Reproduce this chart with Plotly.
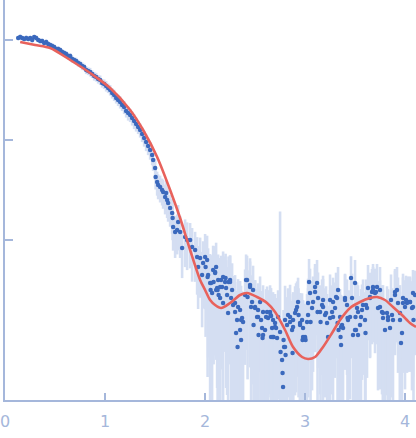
import plotly.graph_objects as go

# Scattering vector q (x) and log10 intensity of the experimental points
q = [
    0.13, 0.15, 0.17, 0.19, 0.21, 0.23, 0.25, 0.27, 0.29, 0.31,
    0.33, 0.35, 0.37, 0.39, 0.41, 0.43, 0.45, 0.47, 0.49, 0.51,
    0.53, 0.55, 0.57, 0.59, 0.61, 0.63, 0.65, 0.67, 0.69, 0.71,
    0.73, 0.75, 0.77, 0.79, 0.81, 0.83, 0.85, 0.87, 0.89, 0.91,
    0.93, 0.95, 0.97, 0.99, 1.01, 1.03, 1.05, 1.07, 1.09, 1.11,
    1.13, 1.15, 1.17, 1.19, 1.21, 1.23, 1.25, 1.27, 1.29, 1.31,
    1.33, 1.35, 1.37, 1.39, 1.41, 1.43, 1.45, 1.47, 1.48, 1.50,
    1.505, 1.52, 1.53, 1.55, 1.57, 1.58, 1.60, 1.61, 1.62, 1.63,
    1.65, 1.67, 1.675, 1.68, 1.70, 1.72, 1.73, 1.75, 1.77, 1.80,
    1.82, 1.85, 1.87, 1.90, 1.92, 1.93, 1.95, 1.97, 1.98, 2.00,
    2.005, 2.02, 2.025, 2.03, 2.05, 2.055, 2.07, 2.08, 2.085, 2.10,
    2.11, 2.12, 2.125, 2.13, 2.135, 2.15, 2.16, 2.17, 2.18, 2.20,
    2.205, 2.22, 2.23, 2.235, 2.25, 2.27, 2.28, 2.30, 2.31, 2.32,
    2.325, 2.33, 2.35, 2.36, 2.37, 2.38, 2.40, 2.42, 2.425, 2.45,
    2.47, 2.48, 2.485, 2.50, 2.52, 2.53, 2.535, 2.55, 2.57, 2.575,
    2.58, 2.60, 2.62, 2.63, 2.65, 2.655, 2.66, 2.67, 2.675, 2.68,
    2.685, 2.70, 2.72, 2.73, 2.75, 2.755, 2.77, 2.775, 2.78, 2.785,
    2.79, 2.80, 2.805, 2.82, 2.83, 2.85, 2.87, 2.875, 2.88, 2.90,
    2.92, 2.93, 2.935, 2.95, 2.97, 2.975, 2.98, 3.00, 3.005, 3.02,
    3.03, 3.04, 3.05, 3.055, 3.07, 3.08, 3.10, 3.12, 3.125, 3.15,
    3.155, 3.17, 3.18, 3.20, 3.22, 3.23, 3.25, 3.27, 3.28, 3.30,
    3.32, 3.325, 3.33, 3.335, 3.35, 3.355, 3.36, 3.37, 3.38, 3.40,
    3.42, 3.425, 3.45, 3.46, 3.47, 3.48, 3.50, 3.505, 3.51, 3.52,
    3.53, 3.55, 3.57, 3.58, 3.60, 3.605, 3.62, 3.63, 3.65, 3.67,
    3.68, 3.70, 3.72, 3.73, 3.75, 3.77, 3.78, 3.80, 3.82, 3.83,
    3.85, 3.87, 3.88, 3.90, 3.92, 3.93, 3.95, 3.96, 3.97, 3.98,
    4.00, 4.02, 4.03, 4.05, 4.07, 4.08, 4.085, 4.10,
    # further points read in the high-q region
    2.10, 2.06, 2.11, 2.15, 2.18, 2.21, 2.25, 2.26, 2.30, 2.35,
    2.36, 2.41, 2.45, 2.46, 2.50, 2.53, 2.56, 2.58, 2.61, 2.66,
    2.70, 2.71, 2.80, 2.85, 2.88, 2.91, 2.95, 2.98, 3.00, 3.03,
    3.10, 3.13, 3.18, 3.21, 3.25, 3.28, 3.31, 3.36, 3.40, 3.43,
    3.50, 3.53, 3.56, 3.61, 3.65, 3.68, 3.71, 3.75, 3.78, 3.83,
    3.86, 3.90, 3.95, 3.98, 4.01, 4.05, 4.08,
]

log_intensity = [
    0.02, 0.03, 0.02, 0.01, 0.02, 0.01, 0.02, 0.00, 0.03, 0.02,
    0.00, -0.01, -0.01, -0.03, -0.02, -0.04, -0.05, -0.06, -0.07, -0.09,
    -0.09, -0.10, -0.12, -0.13, -0.14, -0.16, -0.16, -0.19, -0.20, -0.21,
    -0.23, -0.24, -0.26, -0.27, -0.30, -0.31, -0.32, -0.34, -0.36, -0.37,
    -0.39, -0.40, -0.43, -0.44, -0.46, -0.48, -0.50, -0.53, -0.55, -0.58,
    -0.60, -0.62, -0.65, -0.67, -0.71, -0.73, -0.75, -0.78, -0.81, -0.84,
    -0.87, -0.90, -0.94, -0.98, -1.02, -1.06, -1.10, -1.15, -1.20, -1.28,
    -1.37, -1.42, -1.45, -1.47, -1.50, -1.52, -1.57, -1.53, -1.60, -1.63,
    -1.68, -1.73, -1.78, -1.87, -1.92, -1.90, -1.82, -1.92, -2.08, -1.97,
    -2.00, -2.00, -2.07, -2.10, -2.17, -2.27, -2.18, -2.35, -2.23, -2.17,
    -2.27, -2.20, -2.37, -2.35, -2.43, -2.50, -2.53, -2.30, -2.42, -2.32,
    -2.27, -2.48, -2.50, -2.40, -2.55, -2.58, -2.40, -2.47, -2.63, -2.42,
    -2.38, -2.55, -2.73, -2.42, -2.40, -2.50, -2.65, -2.72, -2.93, -2.80,
    -3.07, -2.67, -2.90, -3.00, -2.78, -2.82, -2.55, -2.40, -2.57, -2.47,
    -2.62, -2.50, -2.85, -2.67, -2.77, -2.70, -2.95, -2.62, -2.88, -2.98,
    -2.72, -2.90, -2.72, -2.78, -2.72, -2.75, -2.76, -2.88, -2.97, -2.80,
    -2.97, -2.87, -2.98, -2.77, -2.92, -3.12, -3.20, -3.33, -3.47, -3.00,
    -3.07, -3.07, -3.15, -2.85, -2.75, -2.82, -2.90, -3.13, -2.80, -2.73,
    -2.67, -2.62, -2.75, -2.85, -2.80, -3.00, -2.88, -2.97, -3.00, -2.82,
    -2.75, -2.42, -2.53, -2.82, -2.68, -2.62, -2.52, -2.43, -2.72, -2.72,
    -2.82, -2.65, -2.60, -2.75, -2.83, -2.97, -2.78, -2.72, -2.62, -2.68,
    -2.58, -2.83, -2.50, -2.90, -2.77, -2.97, -3.05, -2.85, -2.88, -2.58,
    -2.65, -2.78, -2.77, -2.38, -2.58, -2.95, -2.43, -2.77, -2.90, -2.68,
    -2.95, -2.85, -2.70, -2.65, -2.80, -2.93, -2.68, -2.48, -2.58, -2.52,
    -2.47, -2.53, -2.47, -2.68, -2.50, -2.72, -2.78, -2.90, -2.73, -2.77,
    -2.88, -2.75, -2.80, -2.55, -2.50, -2.63, -2.80, -3.03, -2.93, -2.58,
    -2.67, -2.63, -2.62, -2.62, -2.68, -2.53, -2.80, -2.55,
    # further points read in the high-q region
    -2.33, -2.43, -2.50, -2.47, -2.37, -2.48, -2.42, -2.58, -2.63, -2.70,
    -2.80, -2.40, -2.45, -2.67, -2.68, -2.77, -2.80, -2.95, -2.77, -2.97,
    -2.83, -2.88, -2.80, -2.77, -2.87, -2.70, -2.83, -2.97, -2.98, -2.63,
    -2.47, -2.58, -2.67, -2.73, -2.60, -2.77, -2.57, -2.87, -2.60, -2.80,
    -2.90, -2.72, -2.77, -2.65, -2.57, -2.50, -2.52, -2.67, -2.73, -2.80,
    -2.60, -2.52, -2.73, -2.63, -2.60, -2.62, -2.67,
]

# Relative experimental uncertainty of each point
rel_error = [
    0.05, 0.06, 0.05, 0.05, 0.06, 0.05, 0.05, 0.06, 0.05, 0.06,
    0.05, 0.06, 0.06, 0.05, 0.06, 0.06, 0.06, 0.07, 0.06, 0.06,
    0.07, 0.06, 0.07, 0.07, 0.07, 0.08, 0.07, 0.08, 0.07, 0.08,
    0.08, 0.08, 0.09, 0.08, 0.09, 0.09, 0.10, 0.09, 0.10, 0.10,
    0.10, 0.11, 0.10, 0.11, 0.12, 0.11, 0.12, 0.12, 0.13, 0.12,
    0.13, 0.14, 0.13, 0.15, 0.14, 0.16, 0.15, 0.16, 0.17, 0.16,
    0.15, 0.16, 0.17, 0.18, 0.19, 0.19, 0.20, 0.21, 0.22, 0.24,
    0.25, 0.27, 0.28, 0.30, 0.30, 0.32, 0.33, 0.32, 0.34, 0.35,
    0.35, 0.38, 0.40, 0.42, 0.45, 0.43, 0.48, 0.45, 0.50, 0.50,
    0.50, 0.48, 0.55, 0.52, 0.58, 0.62, 0.60, 0.70, 0.65, 0.70,
    0.80, 0.75, 0.90, 0.85, 0.95, 0.90, 1.00, 0.75, 0.85, 0.80,
    0.75, 0.90, 0.95, 0.80, 1.00, 0.95, 0.75, 0.85, 1.20, 0.80,
    0.75, 0.90, 1.30, 0.80, 0.75, 0.85, 0.95, 1.00, 1.40, 0.95,
    1.50, 0.90, 0.95, 1.20, 0.85, 0.90, 0.80, 0.75, 0.85, 0.80,
    0.85, 0.75, 0.95, 0.85, 0.90, 0.85, 1.10, 0.80, 0.90, 1.00,
    0.85, 0.95, 0.80, 0.90, 0.85, 0.85, 0.90, 0.95, 1.20, 0.90,
    1.30, 0.90, 1.10, 0.85, 15.0, 0.95, 1.20, 1.60, 1.80, 1.00,
    1.00, 1.10, 1.30, 0.90, 0.85, 0.90, 0.95, 1.20, 0.90, 0.85,
    0.80, 0.75, 0.85, 0.90, 0.85, 1.10, 0.90, 1.00, 1.05, 0.90,
    0.85, 0.70, 0.75, 0.95, 0.85, 0.80, 0.75, 0.70, 0.90, 0.85,
    0.90, 0.80, 0.75, 0.85, 0.95, 1.05, 0.90, 0.85, 0.75, 0.80,
    0.75, 0.95, 0.70, 1.00, 0.90, 1.05, 1.20, 0.95, 1.00, 0.75,
    0.80, 0.90, 0.85, 0.65, 0.75, 1.05, 0.70, 0.90, 1.00, 0.80,
    1.05, 0.95, 0.80, 0.80, 0.90, 1.00, 0.80, 0.70, 0.75, 0.70,
    0.70, 0.75, 0.70, 0.85, 0.70, 0.85, 0.90, 1.00, 0.85, 0.90,
    0.95, 0.85, 0.90, 0.75, 0.70, 0.80, 0.90, 1.10, 1.00, 0.75,
    0.85, 0.80, 0.80, 0.80, 0.85, 0.70, 0.95, 0.75,
    # further points read in the high-q region
    0.85, 0.90, 0.80, 0.95, 0.80, 0.90, 0.85, 1.10, 0.90, 0.95,
    1.20, 0.80, 0.85, 0.95, 0.90, 1.00, 0.95, 1.30, 0.90, 1.10,
    0.95, 1.00, 1.20, 1.10, 0.90, 0.85, 1.00, 1.30, 1.20, 0.75,
    0.70, 0.80, 0.90, 0.85, 0.80, 0.95, 0.75, 1.10, 0.80, 0.95,
    1.00, 0.85, 0.90, 0.80, 0.75, 0.70, 0.70, 0.85, 0.90, 1.00,
    0.80, 0.70, 0.90, 0.80, 0.75, 0.75, 0.80,
]

# Model fit curve
fit_q = [0.15, 0.30, 0.45, 0.65, 0.85, 1.05, 1.25, 1.38, 1.52, 1.65,
         1.75, 1.85, 1.95, 2.00, 2.05, 2.10, 2.16, 2.25, 2.35, 2.42,
         2.52, 2.62, 2.70, 2.80, 2.88, 2.97, 3.03, 3.10, 3.18, 3.27,
         3.35, 3.45, 3.55, 3.65, 3.72, 3.80, 3.88, 3.97, 4.05, 4.11]
fit_log_intensity = [-0.02, -0.05, -0.08, -0.20, -0.33, -0.48, -0.70, -0.90, -1.17, -1.50,
                     -1.78, -2.10, -2.40, -2.50, -2.60, -2.65, -2.68, -2.63, -2.55, -2.53,
                     -2.57, -2.63, -2.72, -2.90, -3.07, -3.17, -3.19, -3.17, -3.07, -2.93,
                     -2.80, -2.68, -2.62, -2.58, -2.57, -2.60, -2.67, -2.75, -2.83, -2.87]

x_tick_values = [0, 1, 2, 3, 4]
y_tick_values = [0.01, 0.1, 1]

intensity = [10 ** v for v in log_intensity]
sigma = [r * i for r, i in zip(rel_error, intensity)]
fit_intensity = [10 ** v for v in fit_log_intensity]

axis_color = "#a5b7db"

fig = go.Figure()
fig.add_trace(go.Scatter(
    x=q, y=intensity, mode="markers",
    marker=dict(color="#3b69bd", size=4.5),
    error_y=dict(type="data", array=sigma, symmetric=True,
                 color="#d4def2", thickness=2.6, width=0),
    hoverinfo="skip",
))
fig.add_trace(go.Scatter(
    x=fit_q, y=fit_intensity, mode="lines",
    line=dict(color="#e8625c", width=2.6, shape="spline", smoothing=0.8),
    hoverinfo="skip",
))

fig.update_layout(
    width=416, height=438,
    margin=dict(l=5, r=0, t=0, b=38),
    paper_bgcolor="white", plot_bgcolor="white",
    showlegend=False,
    xaxis=dict(
        range=[-0.002, 4.11], tickvals=x_tick_values, ticks="inside", ticklen=7,
        tickcolor=axis_color, tickwidth=1.5, showline=True, linecolor=axis_color,
        linewidth=1.5, showgrid=False, zeroline=False, automargin=False,
        tickfont=dict(family="DejaVu Sans", size=16, color=axis_color),
        ticklabelstandoff=6,
    ),
    yaxis=dict(
        type="log", range=[-3.6, 0.4], tickvals=y_tick_values, showticklabels=False,
        ticks="inside", ticklen=8, tickcolor=axis_color, tickwidth=1.5,
        showline=True, linecolor=axis_color, linewidth=1.5,
        showgrid=False, zeroline=False, automargin=False,
    ),
)

fig.write_html("out.html", config={"displayModeBar": False},
               post_script="document.body.style.margin='0px';")
